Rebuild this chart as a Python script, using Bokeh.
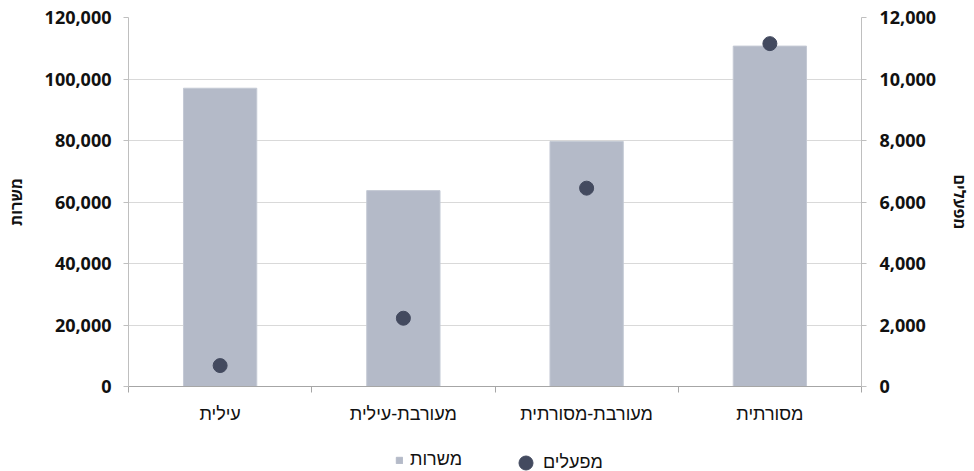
from bokeh.plotting import figure
from bokeh.layouts import column
from bokeh.models import (Range1d, LinearAxis, FixedTicker, NumeralTickFormatter,
                          Legend, LegendItem)
from bokeh.embed import file_html
from bokeh.resources import INLINE

categories = ["עילית", "מעורבת-עילית", "מעורבת-מסורתית", "מסורתית"]
jobs = [97000, 63700, 79700, 110700]          # משרות (left axis)
plants = [680, 2220, 6450, 11150]             # מפעלים (right axis)
left_ticks = [0, 20000, 40000, 60000, 80000, 100000, 120000]
right_ticks = [0, 2000, 4000, 6000, 8000, 10000, 12000]
jobs_label = "משרות"
plants_label = "מפעלים"

FONT = "Open Sans"
HFONT = "Liberation Sans"
TXT = "#111111"
AXC = "#bfbfbf"
BAR_C = "#b4bac8"
DOT_C = "#434a5f"

xpos = [i + 0.5 for i in range(len(categories))]
bounds = list(range(len(categories) + 1))

p = figure(width=974, height=441, x_range=Range1d(0, len(categories)),
           y_range=Range1d(left_ticks[0], left_ticks[-1]),
           output_backend="svg", toolbar_location=None,
           min_border_left=128, min_border_right=110, min_border_top=17,
           min_border_bottom=55)
p.outline_line_color = None
p.extra_y_ranges = {"plants": Range1d(right_ticks[0], right_ticks[-1])}

bars = p.vbar(x=xpos, top=jobs, width=0.4, fill_color=BAR_C,
              line_color="#c4c9d4", line_width=1)
dots = p.scatter(x=xpos, y=plants, y_range_name="plants", size=14,
                 fill_color=DOT_C, line_color=DOT_C)

# x axis
xa = p.xaxis[0]
xa.ticker = FixedTicker(ticks=xpos, minor_ticks=bounds)
xa.major_label_overrides = {x: c for x, c in zip(xpos, categories)}
xa.major_tick_line_color = None
xa.major_tick_out = 0
xa.minor_tick_out = 6
xa.minor_tick_in = 0
xa.minor_tick_line_color = "#a6a6a6"
xa.axis_line_color = "#a6a6a6"
xa.major_label_standoff = 11
xa.major_label_text_font = HFONT
xa.major_label_text_font_size = "18px"
xa.major_label_text_color = TXT
p.xgrid.grid_line_color = None

# left axis
ya = p.yaxis[0]
ya.ticker = FixedTicker(ticks=left_ticks)
ya.formatter = NumeralTickFormatter(format="0,0")
ya.axis_label = jobs_label
ya.axis_line_color = AXC
ya.major_tick_line_color = AXC
ya.major_tick_out = 5
ya.major_tick_in = 0
ya.minor_tick_line_color = None
ya.major_label_standoff = 12
ya.major_label_text_font = FONT
ya.major_label_text_font_size = "18px"
ya.major_label_text_font_style = "bold"
ya.major_label_text_color = TXT
ya.axis_label_text_font = FONT
ya.axis_label_text_font_size = "16px"
ya.axis_label_text_font_style = "bold"
ya.axis_label_text_color = TXT
ya.axis_label_standoff = 15
p.ygrid.grid_line_color = "#d9d9d9"
p.ygrid.ticker = FixedTicker(ticks=left_ticks)

# right axis
ra = LinearAxis(y_range_name="plants", ticker=FixedTicker(ticks=right_ticks),
                formatter=NumeralTickFormatter(format="0,0"), axis_label=plants_label)
ra.axis_line_color = AXC
ra.major_tick_line_color = AXC
ra.major_tick_out = 5
ra.major_tick_in = 0
ra.minor_tick_line_color = None
ra.major_label_standoff = 13
ra.major_label_text_font = FONT
ra.major_label_text_font_size = "18px"
ra.major_label_text_font_style = "bold"
ra.major_label_text_color = TXT
ra.axis_label_text_font = FONT
ra.axis_label_text_font_size = "16px"
ra.axis_label_text_font_style = "bold"
ra.axis_label_text_color = TXT
ra.axis_label_standoff = 10
p.add_layout(ra, "right")

# legend strip under the chart (its frame is aligned with the chart's frame)
lg = figure(width=974, height=30, x_range=Range1d(0, 736), y_range=Range1d(0, 30),
            output_backend="svg", toolbar_location=None,
            min_border_left=0, min_border_right=0,
            min_border_top=0, min_border_bottom=0)
lg.axis.visible = False
lg.grid.visible = False
lg.outline_line_color = None
lbar = lg.vbar(x=[-500], top=[-500], bottom=[-600], width=1,
               fill_color=BAR_C, line_color=BAR_C)
ldot = lg.scatter(x=[-500], y=[-500], size=14, fill_color=DOT_C, line_color=DOT_C)

common = dict(orientation="horizontal", border_line_color=None,
              background_fill_alpha=0, label_text_font=HFONT,
              label_text_font_size="18px", label_text_color=TXT,
              padding=0, margin=0, spacing=0)
leg_bar = Legend(items=[LegendItem(label=jobs_label, renderers=[lbar])],
                 location=(267, 1), glyph_width=8, glyph_height=8,
                 label_height=16, label_standoff=7, **common)
leg_dot = Legend(items=[LegendItem(label=plants_label, renderers=[ldot])],
                 location=(380, -9), glyph_width=35, glyph_height=35,
                 label_height=16, label_standoff=-12, **common)
lg.add_layout(leg_bar, "center")
lg.add_layout(leg_dot, "center")

open("out.html", "w").write(file_html(column(p, lg, spacing=0), INLINE))
